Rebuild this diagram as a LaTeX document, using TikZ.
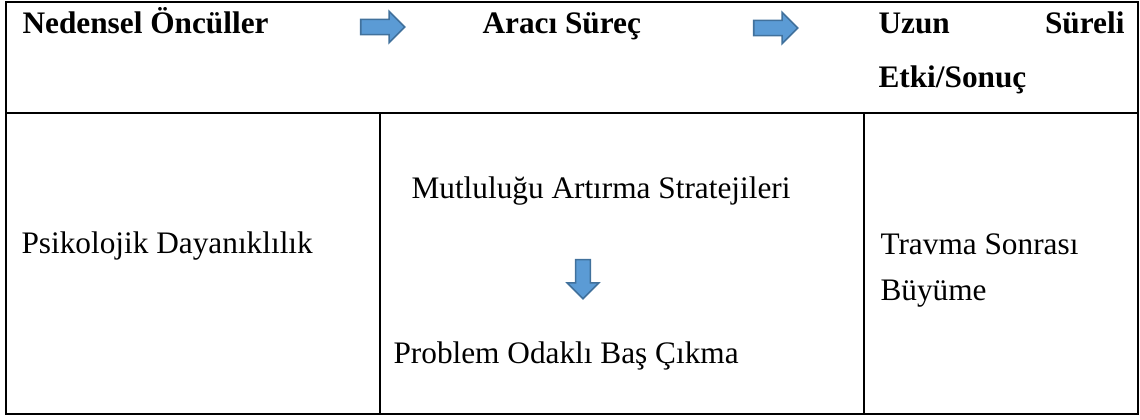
\documentclass[tikz,border=0pt]{standalone}
\usepackage{fontspec}
\setmainfont{Liberation Serif}
\usetikzlibrary{shapes.arrows, positioning}
\definecolor{arrowfill}{HTML}{5B9BD5}
\definecolor{arrowbd}{HTML}{41719C}

\begin{document}
\begin{tikzpicture}[
        x=0.3834pt, y=-0.3834pt,
        font=\fontsize{12}{14}\selectfont,
        head_text/.style={
            anchor=base west,
            inner sep=0pt,
            font=\fontsize{12}{14}\selectfont\bfseries
        },
        cell_text/.style={
            anchor=base west,
            inner sep=0pt
        },
        flow_arrow/.style={
            single arrow,
            draw=arrowbd,
            fill=arrowfill,
            line width=0.6pt,
            inner sep=2.6pt,
            single arrow head extend=3.1pt,
            single arrow tip angle=90,
            minimum height=16.9pt
        },
        frame_line/.style={line width=0.8pt},
        grid_line/.style={line width=0.55pt}
    ]
    \useasboundingbox (0,0) rectangle (1140,419);

    % Table frame
    \draw[frame_line] (6,2) rectangle (1138,414);
    \draw[frame_line] (6,113) -- (1138,113);
    \draw[grid_line] (380,113) -- (380,414);
    \draw[grid_line] (864,113) -- (864,414);

    % Header row
    \node[head_text] (causes) at (22,33) {Nedensel Öncüller};
    \node[head_text] (process) at (482,33) {Aracı Süreç};
    \node[head_text] (longa) at (878,33) {Uzun};
    \node[head_text, anchor=base east] (longb) at (1125,33) {Süreli};
    \node[head_text] (effect) at (878,87) {Etki/Sonuç};

    \node[flow_arrow] (arrA) at (379,27) {};
    \node[flow_arrow] (arrB) at (772,28) {};

    % Body row
    \node[cell_text] (resil) at (21,253) {Psikolojik Dayanıklılık};
    \node[cell_text] (happy) at (411,198) {Mutluluğu Artırma Stratejileri};
    \node[cell_text] (coping) at (393,363) {Problem Odaklı Baş Çıkma};
    \node[cell_text] (ptg) at (880,254) {Travma Sonrası};
    \node[cell_text] (ptgb) at (880,300) {Büyüme};

    \node[flow_arrow, shape border rotate=270, inner sep=2.5pt,
          single arrow head extend=3.26pt, minimum height=15pt] (arrC) at (583,275.5) {};

\end{tikzpicture}
\end{document}
